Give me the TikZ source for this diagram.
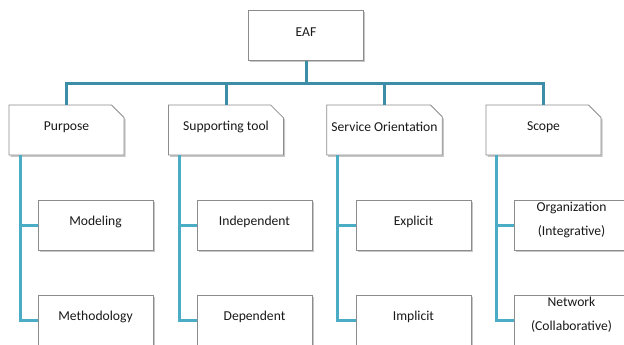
\documentclass[tikz,border=0pt]{standalone}
\usepackage{fontspec}
\setmainfont{Carlito}
\usetikzlibrary{shapes.misc,shadows}
\definecolor{topc}{HTML}{3B8EA5}
\definecolor{subc}{HTML}{4BACC6}
\definecolor{boxc}{HTML}{8C8C8C}
\newcommand\onel[1]{\raisebox{3pt}[\height][\depth]{#1}}
\newcommand\twol[2]{\raisebox{6pt}[\height][\depth]{\begin{tabular}{@{}c@{}}#1\\#2\end{tabular}}}
\begin{document}
\begin{tikzpicture}[x=1pt,y=-1pt,
  base/.style={draw=boxc, line width=0.8pt, fill=white, minimum width=115pt, minimum height=50pt,
    inner sep=0pt, font=\fontsize{13.6}{24}\selectfont, text=black!90,
    drop shadow={shadow xshift=1.5pt, shadow yshift=-1.8pt, fill=black, opacity=0.22}},
  box/.style={base, rectangle},
  cat/.style={base, chamfered rectangle, chamfered rectangle corners=north east,
    chamfered rectangle xsep=7pt, chamfered rectangle ysep=7pt},
  topline/.style={draw=topc, line width=3pt},
  subline/.style={draw=subc, line width=3pt}]
\useasboundingbox (0,0) rectangle (624,345);
\coordinate (bar) at (0,84);
% nodes
\node[box] (eaf) at (306,35.5) {\onel{EAF}};
\node[cat] (pur) at (66.5,130) {\onel{Purpose}};
\node[cat] (sup) at (226,130) {\onel{Supporting tool}};
\node[cat] (ser) at (384.5,130) {\onel{Service Orientation}};
\node[cat] (sco) at (543.5,130) {\onel{Scope}};
\node[box] (mod) at (95.5,225) {\onel{Modeling}};
\node[box] (met) at (95.5,320) {\onel{Methodology}};
\node[box] (ind) at (254.5,225) {\onel{Independent}};
\node[box] (dep) at (254.5,320) {\onel{Dependent}};
\node[box] (exp) at (413.5,225) {\onel{Explicit}};
\node[box] (imp) at (413.5,320) {\onel{Implicit}};
\node[box] (org) at (571.5,225) {\twol{Organization}{(Integrative)}};
\node[box] (net) at (571.5,320) {\twol{Network}{(Collaborative)}};
% top connectors
\draw[topline] (eaf.south) -- (eaf.south |- bar);
\draw[topline, line cap=butt] ([xshift=-1.5pt]pur.north |- bar) -- ([xshift=1.5pt]sco.north |- bar);
\draw[topline] (pur.north |- bar) -- (pur.north);
\draw[topline] (sup.north |- bar) -- (sup.north);
\draw[topline] (ser.north |- bar) -- (ser.north);
\draw[topline] (sco.north |- bar) -- (sco.north);
% sub connectors
\coordinate (pv) at ([xshift=12pt]pur.south west);
\coordinate (sv) at ([xshift=11pt]sup.south west);
\coordinate (ev) at ([xshift=11pt]ser.south west);
\coordinate (cv) at ([xshift=11pt]sco.south west);
\draw[subline] (pv) |- (met.west);
\draw[subline] (pv |- mod.west) -- (mod.west);
\draw[subline] (sv) |- (dep.west);
\draw[subline] (sv |- ind.west) -- (ind.west);
\draw[subline] (ev) |- (imp.west);
\draw[subline] (ev |- exp.west) -- (exp.west);
\draw[subline] (cv) |- (net.west);
\draw[subline] (cv |- org.west) -- (org.west);
\end{tikzpicture}
\end{document}
